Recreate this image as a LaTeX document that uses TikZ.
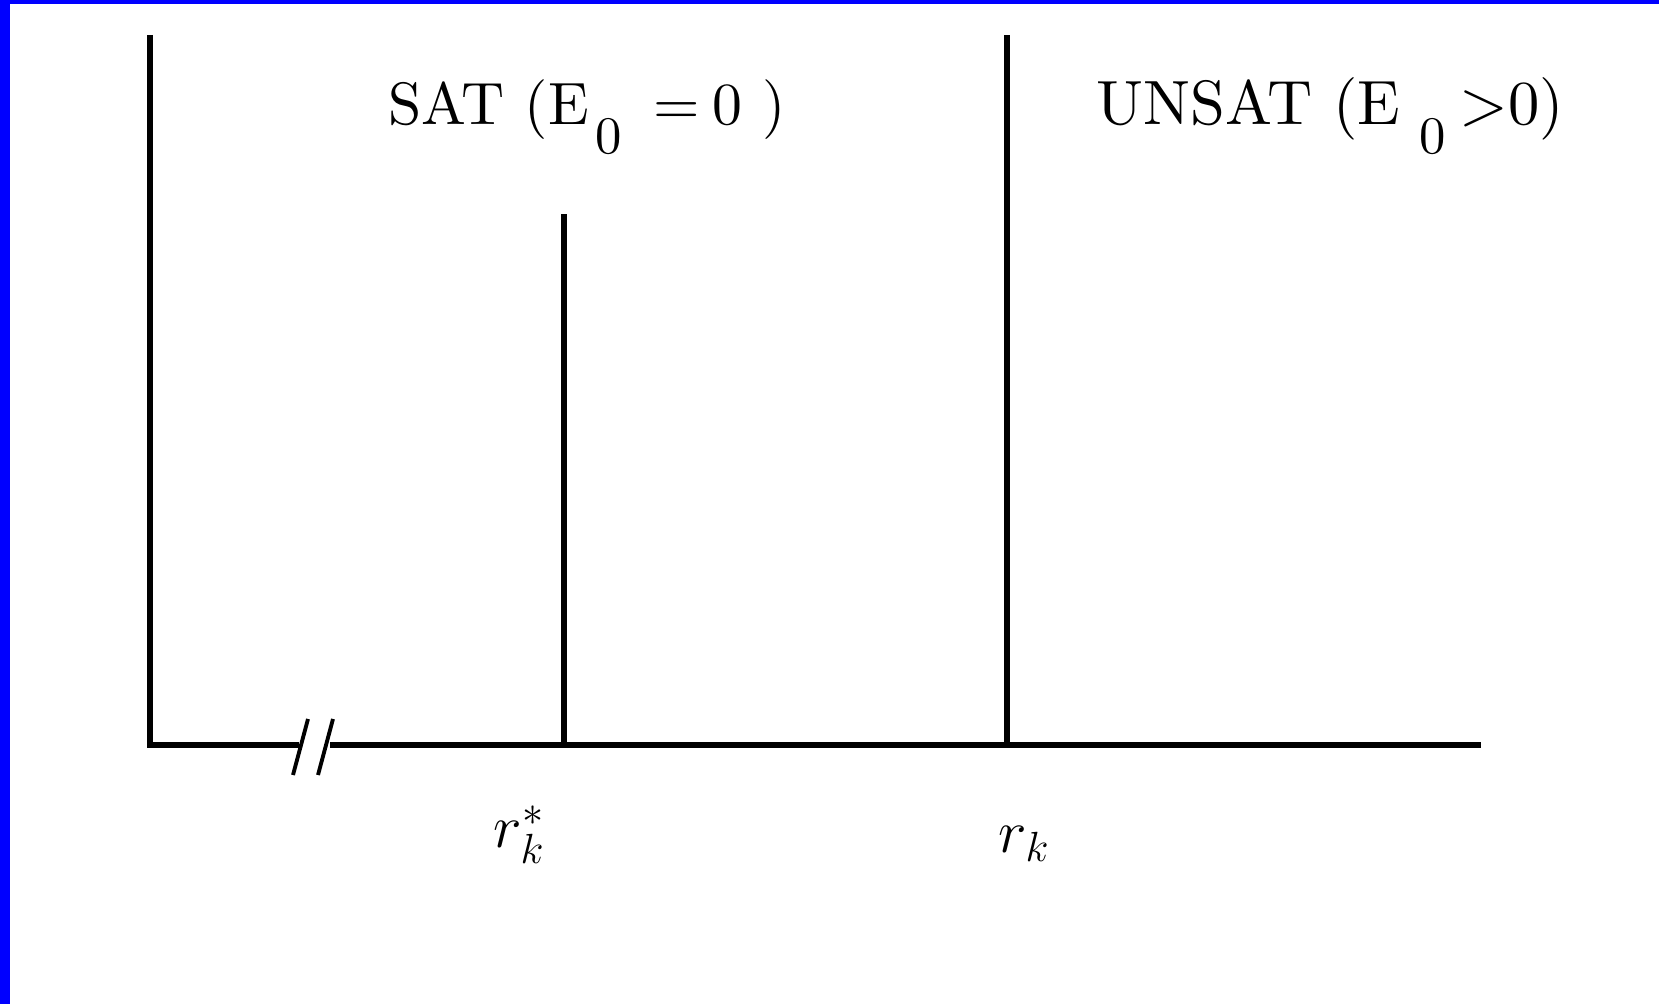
\documentclass[tikz,border=0pt]{standalone}
\usepackage{fontspec}
\usepackage{xcolor}
\usepackage{tikz}
\usetikzlibrary{calc,positioning}
\newfontfamily\tenrm{lmroman10-regular}[Extension=.otf]
\definecolor{frameblue}{HTML}{0000FF}
\newcommand{\lowsub}[1]{\raisebox{-8.2pt}{\fontsize{15}{17}\selectfont #1}}

\begin{document}
\begin{tikzpicture}[
  axisline/.style={line width=1.6pt,line join=miter},
  breakmark/.style={line width=1.1pt},
  phase/.style={anchor=base west,inner sep=0pt},
  ratio/.style={font=\fontsize{17}{20}\selectfont,anchor=base west,inner sep=0pt}]
  \useasboundingbox (0,0) rectangle (16.59,10.04);
  \fill[frameblue] (0,0) rectangle (0.10,10.04);
  \fill[frameblue] (0,10.00) rectangle (16.59,10.04);
  % axes with break
  \coordinate (origin) at (1.50,2.59);
  \coordinate (ytop) at (1.50,9.69);
  \coordinate (xend) at (14.81,2.59);
  \coordinate (gapL) at (2.99,2.59);
  \coordinate (gapR) at (3.30,2.59);
  \draw[axisline] (ytop) -- (origin) -- (gapL);
  \draw[axisline] (gapR) -- (xend);
  \foreach \dx in {0,0.25} \draw[breakmark] ($(2.93,2.29)+(\dx,0)$) -- +(0.15,0.56);
  % thresholds
  \coordinate (rstarfoot) at (5.64,2.59);
  \coordinate (rstartop) at (5.64,7.90);
  \coordinate (rkfoot) at (10.07,2.59);
  \coordinate (rktop) at (10.07,9.69);
  \draw[axisline] (rstarfoot) -- (rstartop);
  \draw[axisline] (rkfoot) -- (rktop);
  \node[ratio] (rstar) at (4.93,1.56) {$r_k^*$};
  \node[ratio] (rk) at (9.98,1.52) {$r_k$};
  % phases
  \node[phase,font=\tenrm\fontsize{17}{20}\selectfont] (sat) at (3.88,8.79)
    {SAT (E\hspace{2pt}\lowsub{0}\hspace{9pt}=\hspace{3.5pt}0 )};
  \node[phase,font=\tenrm\fontsize{17.8}{21}\selectfont] (unsat) at (10.96,8.79)
    {UNSAT (E\hspace{5.5pt}\lowsub{0}\hspace{4pt}>0)};
\end{tikzpicture}
\end{document}
